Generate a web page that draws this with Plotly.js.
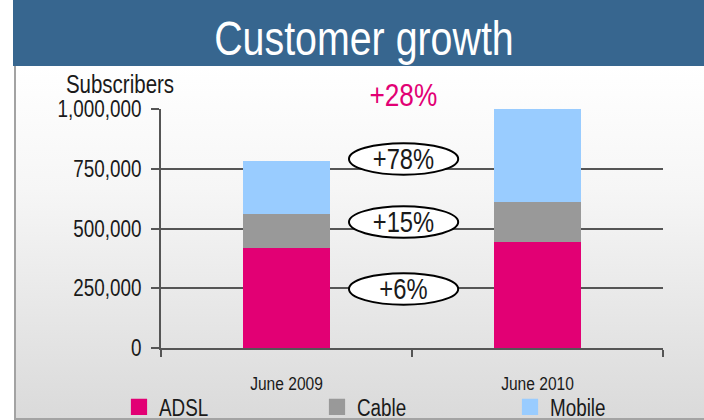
<!DOCTYPE html>
<html>
<head>
<meta charset="utf-8">
<script src="https://cdn.plot.ly/plotly-3.0.1.min.js"></script>
<style>
  html, body { margin: 0; padding: 0; background: #ffffff; }
  #wrap { position: relative; width: 704px; height: 420px; overflow: hidden; }
  #bar { position: absolute; left: 13px; top: 0; width: 691px; height: 66px; background: #37668f; }
  #panel { position: absolute; left: 14px; top: 66px; width: 690px; height: 352px;
           border-left: 2px solid #a3a3a3; border-bottom: 2px solid #a3a3a3;
           background: linear-gradient(to bottom, #ffffff 0%, #f6f6f6 35%, #dadada 100%); }
  #chart { position: absolute; left: 0; top: 0; width: 704px; height: 420px; }
</style>
</head>
<body>
<div id="wrap">
  <div id="bar"></div>
  <div id="panel"></div>
  <div id="chart"></div>
</div>
<script>
// ---- data ----
const categories = ['June 2009', 'June 2010'];
const adsl   = [418000, 444000];
const cable  = [143000, 167000];
const mobile = [221000, 397000];
const seriesNames = ['ADSL', 'Cable', 'Mobile'];
const growthLabels = ['+6%', '+15%', '+78%'];
const growthLevels = [247000, 527000, 791000];
const totalGrowth = '+28%';
const yTickVals = [0, 250000, 500000, 750000, 1000000];
const yTickText = ['0', '250,000', '500,000', '750,000', '1,000,000'];

const FONT = '"Liberation Sans", Arial, sans-serif';
const colors = ['#e20074', '#999999', '#99ccff'];
const legendIds = ['legend', 'legend2', 'legend3'];
const legendX = [119, 317, 510];

const traces = [adsl, cable, mobile].map((vals, i) => ({
  type: 'bar',
  name: seriesNames[i],
  x: categories,
  y: vals,
  legend: legendIds[i],
  marker: { color: colors[i], line: { width: 0 } },
  hoverinfo: 'skip'
}));

const halfH = 66000;
const shapes = growthLevels.map(v => ({
  type: 'circle', xref: 'paper', yref: 'y',
  x0: 0.3745, x1: 0.592, y0: v - halfH, y1: v + halfH,
  line: { color: '#000000', width: 2 }, fillcolor: '#ffffff', layer: 'above'
}));

const annotations = growthLabels.map((t, i) => ({
  xref: 'paper', yref: 'y', x: 0.4835, y: growthLevels[i],
  text: t, showarrow: false, xanchor: 'center', yanchor: 'middle',
  font: { family: FONT, size: 29, color: '#1a1a1a' }
}));
annotations.push({
  xref: 'paper', yref: 'paper', x: -0.217, y: 1.104, xanchor: 'left', yanchor: 'middle',
  text: 'Subscribers', showarrow: false,
  font: { family: FONT, size: 25, color: '#1a1a1a' }
});
annotations.push({
  xref: 'paper', yref: 'paper', x: 0.484, y: 1.06, xanchor: 'center', yanchor: 'middle',
  text: totalGrowth, showarrow: false,
  font: { family: FONT, size: 32, color: '#e20074' }
});

function legendDef(px) {
  return {
    orientation: 'h',
    xref: 'container', yref: 'container',
    x: px / 704, y: 1 - 407 / 420, xanchor: 'left', yanchor: 'middle',
    bgcolor: 'rgba(0,0,0,0)',
    font: { family: FONT, size: 23, color: '#1a1a1a' }
  };
}

const layout = {
  width: 704, height: 420,
  margin: { l: 161, r: 41, t: 109, b: 72 },
  paper_bgcolor: 'rgba(0,0,0,0)',
  plot_bgcolor: 'rgba(0,0,0,0)',
  barmode: 'stack',
  bargap: 0.653,
  showlegend: true,
  title: {
    text: 'Customer growth',
    xref: 'container', yref: 'container',
    x: 0.517, y: 0.91, xanchor: 'center', yanchor: 'middle',
    font: { family: FONT, size: 48, color: '#ffffff' }
  },
  xaxis: {
    type: 'category',
    tickson: 'boundaries',
    ticks: 'outside', ticklen: 7, tickwidth: 2, tickcolor: '#555555',
    showline: true, linecolor: '#555555', linewidth: 2,
    showgrid: false, zeroline: false,
    ticklabelstandoff: 17,
    tickfont: { family: FONT, size: 19, color: '#1a1a1a' },
    fixedrange: true
  },
  yaxis: {
    range: [0, 1000000],
    tickvals: yTickVals, ticktext: yTickText,
    ticks: 'outside', ticklen: 8, tickwidth: 2, tickcolor: '#555555',
    showline: true, linecolor: '#555555', linewidth: 2,
    showgrid: true, gridcolor: '#555555', gridwidth: 2,
    zeroline: false,
    ticklabelstandoff: 5,
    tickfont: { family: FONT, size: 23, color: '#1a1a1a' },
    fixedrange: true
  },
  legend: legendDef(legendX[0]),
  legend2: legendDef(legendX[1]),
  legend3: legendDef(legendX[2]),
  shapes: shapes,
  annotations: annotations
};

// condense text horizontally (the reference uses a condensed face)
function condense(gd) {
  gd.querySelectorAll('svg text').forEach(t => {
    if (t.getAttribute('data-cond')) return;
    const x = parseFloat(t.getAttribute('x')) || 0;
    const y = parseFloat(t.getAttribute('y')) || 0;
    const tr = t.getAttribute('transform') || '';
    t.setAttribute('transform', tr + ' translate(' + x + ',' + y + ') scale(0.82,1) translate(' + (-x) + ',' + (-y) + ')');
    t.setAttribute('data-cond', '1');
  });
  gd.querySelectorAll('.legendpoints path').forEach(p => {
    if (p.getAttribute('data-cond')) return;
    const tr = p.getAttribute('transform') || '';
    p.setAttribute('transform', tr + ' scale(1.35)');
    p.setAttribute('data-cond', '1');
  });
}

Plotly.newPlot('chart', traces, layout, { displayModeBar: false, staticPlot: true })
  .then(gd => condense(gd));
</script>
</body>
</html>
